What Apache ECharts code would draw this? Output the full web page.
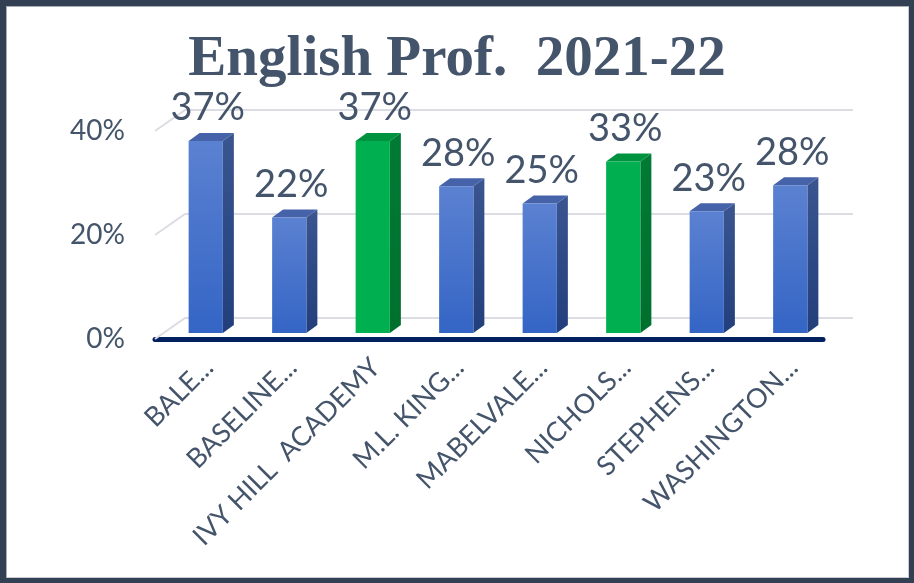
<!DOCTYPE html>
<html>
<head>
<meta charset="utf-8">
<script src="https://cdn.jsdelivr.net/npm/echarts@6/dist/echarts.min.js"></script>
<style>
  html, body { margin: 0; padding: 0; background: #ffffff; }
  #chart { position: absolute; left: 0; top: 0; width: 914px; height: 583px; }
  #frame { position: absolute; left: 0; top: 0; width: 914px; height: 583px; box-sizing: border-box;
           border-style: solid; border-color: #333f52; border-width: 6px 5px 5px 6px;
           box-shadow: inset 1px 1px 0 #a9aeb6, inset -1px -1px 0 #c9ccd1; pointer-events: none; }
</style>
</head>
<body>
<div id="chart"></div>
<div id="frame"></div>
<script>
const titleText = 'English Prof.  2021-22';
const categories = ['BALE...', 'BASELINE...', 'IVY HILL  ACADEMY', 'M.L. KING...', 'MABELVALE...', 'NICHOLS...', 'STEPHENS...', 'WASHINGTON...'];
const values = [36.9, 22.2, 36.9, 28.2, 24.9, 33.0, 23.4, 28.4];
const highlighted = [false, false, true, false, false, true, false, false];
const yTicks = [0, 20, 40];

const TEXT = '#44546a';
const BLUE = { front: ['#5b81d1', '#3465c5'], side: ['#3a5590', '#223f7c'], top: '#4662a8' };
const GREEN = { front: ['#00b050', '#00b050'], side: ['#007a35', '#006f2e'], top: '#00933f' };

// 3D projection offsets (pixels)
const FACE_DX = 9, FACE_DY = -6;   // bar front face behind the front plane
const DEPTH_DX = 11, DEPTH_DY = -8; // bar depth
const WALL_DX = 30, WALL_DY = -21;  // back wall

const chart = echarts.init(document.getElementById('chart'), null, { renderer: 'canvas' });

function grad(c) {
  return new echarts.graphic.LinearGradient(0, 0, 0, 1, [{ offset: 0, color: c[0] }, { offset: 1, color: c[1] }]);
}

const option = {
  backgroundColor: '#ffffff',
  animation: false,
  title: {
    text: titleText, left: 'center', top: 27,
    textStyle: { fontFamily: 'Liberation Serif', fontWeight: 'bold', fontSize: 57, color: TEXT }
  },
  grid: [
    { left: 155, right: 91, top: 131, bottom: 244 },
    { left: 167, right: 79, top: 131, bottom: 244 }
  ],
  xAxis: [
    {
      type: 'category', data: categories, gridIndex: 0,
      axisTick: { show: false },
      axisLine: { show: true, lineStyle: { color: '#002060', width: 5, cap: 'round' } },
      axisLabel: { show: false },
      splitLine: { show: false }
    },
    {
      type: 'category', data: categories, gridIndex: 1,
      axisTick: { show: false }, axisLine: { show: false }, splitLine: { show: false },
      axisLabel: { rotate: 45, interval: 0, margin: 24, color: TEXT, fontFamily: 'Lato', fontSize: 27 }
    }
  ],
  yAxis: [
    {
      type: 'value', min: 0, max: 40, interval: 20, gridIndex: 0,
      axisLine: { show: false }, axisTick: { show: false }, splitLine: { show: false },
      axisLabel: { formatter: '{value}%', margin: 30, color: TEXT, fontFamily: 'Lato', fontSize: 28 }
    },
    {
      type: 'value', min: 0, max: 40, interval: 20, gridIndex: 1, show: false
    }
  ],
  series: [
    {
      type: 'custom', z: 1, silent: true, xAxisIndex: 0, yAxisIndex: 0,
      data: yTicks.map(v => [0, v]),
      renderItem: function (params, api) {
        const cs = params.coordSys;
        const p = api.coord([0, api.value(1)]);
        const y = p[1];
        const x0 = cs.x;
        return {
          type: 'polyline',
          shape: { points: [[x0, y], [x0 + WALL_DX, y + WALL_DY], [x0 + cs.width + WALL_DX, y + WALL_DY]] },
          style: { stroke: '#dcdde4', lineWidth: 2, fill: null }
        };
      }
    },
    {
      type: 'custom', z: 3, silent: true, xAxisIndex: 0, yAxisIndex: 0,
      data: values.map((v, i) => [i, v]),
      renderItem: function (params, api) {
        const i = api.value(0), v = api.value(1);
        const base = api.coord([i, 0]);
        const top = api.coord([i, v]);
        const bw = api.size([1, 0])[0] * 0.41;
        const pal = highlighted[i] ? GREEN : BLUE;
        const x = base[0] - bw / 2 + FACE_DX;
        const y = top[1] + FACE_DY;
        const h = base[1] - top[1];
        return {
          type: 'group',
          children: [
            { type: 'polygon', shape: { points: [[x + bw, y], [x + bw + DEPTH_DX, y + DEPTH_DY], [x + bw + DEPTH_DX, y + h + DEPTH_DY], [x + bw, y + h]] },
              style: { fill: grad(pal.side) } },
            { type: 'polygon', shape: { points: [[x, y], [x + DEPTH_DX, y + DEPTH_DY], [x + bw + DEPTH_DX, y + DEPTH_DY], [x + bw, y]] },
              style: { fill: pal.top } },
            { type: 'rect', shape: { x: x, y: y, width: bw, height: h },
              style: { fill: grad(pal.front) } },
            { type: 'text', x: x + bw / 2 + 2, y: y - 33,
              style: { text: Math.round(v) + '%', fill: TEXT, font: '38px Lato', align: 'center', verticalAlign: 'middle' } }
          ]
        };
      }
    }
  ]
};
chart.setOption(option);
</script>
</body>
</html>
